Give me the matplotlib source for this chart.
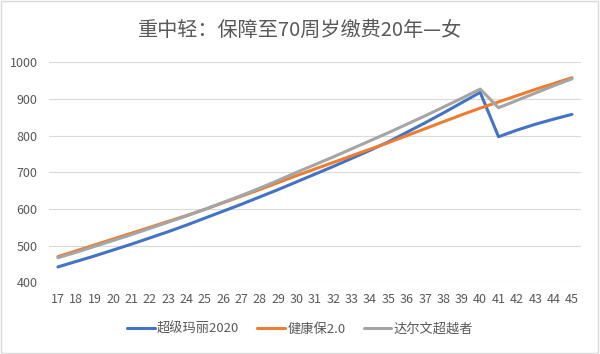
import matplotlib
matplotlib.use('Agg')
import matplotlib.pyplot as plt
from matplotlib.patches import Rectangle

plt.rcParams['font.family'] = ['Noto Sans CJK SC', 'DejaVu Sans']

# 投保年龄
ages = list(range(17, 46))

# 年缴保费
chaoji_mali = [442, 457, 472, 488, 504, 521, 538, 556, 575, 594, 613, 633, 653, 674, 695,
               716, 738, 760, 783, 809, 835, 862, 890, 918, 797, 815, 831, 845, 858]
jiankangbao = [470, 486, 502, 518, 534, 550, 566, 582, 599, 617, 635, 653, 672, 691, 709,
               727, 745, 763, 781, 800, 819, 838, 857, 875, 892, 909, 926, 942, 958]
daerwen = [467, 482, 498, 514, 530, 547, 564, 581, 599, 618, 637, 657, 678, 700, 721,
           742, 764, 786, 808, 831, 854, 878, 902, 927, 876, 896, 916, 936, 955]

series_names = ['超级玛丽2020', '健康保2.0', '达尔文超越者']
colors = ['#4472C4', '#ED7D31', '#A5A5A5']
text_color = '#595959'

fig = plt.figure(figsize=(6, 3.54), dpi=100)
ax = fig.add_axes([0.0813, 0.2025, 0.8873, 0.6215])

for vals, name, c in zip([chaoji_mali, jiankangbao, daerwen], series_names, colors):
    ax.plot(ages, vals, color=c, lw=2.2, label=name, solid_capstyle='round')

ax.set_xlim(16.5, 45.5)
ax.set_ylim(400, 1000)
ax.set_yticks(range(400, 1001, 100))
ax.set_xticks(ages)
ax.yaxis.grid(True, color='#D9D9D9', lw=0.8)
ax.set_axisbelow(True)
for s in ax.spines.values():
    s.set_visible(False)
ax.tick_params(axis='both', length=0, labelsize=9, labelcolor=text_color)
ax.tick_params(axis='y', pad=8)
ax.tick_params(axis='x', pad=8)

fig.text(0.5, 0.915, '重中轻：保障至70周岁缴费20年—女', ha='center', va='center',
         fontsize=14.5, color=text_color)

fig.legend(loc='center', bbox_to_anchor=(0.5, 0.07), ncol=3, frameon=False,
           fontsize=9.5, labelcolor=text_color, handlelength=2.1,
           handletextpad=0.15, columnspacing=1.4)

fig.patches.append(Rectangle((0.002, 0.004), 0.995, 0.992, transform=fig.transFigure,
                             fill=False, edgecolor='#D9D9D9', lw=1))

fig.savefig('out.png', dpi=100)
